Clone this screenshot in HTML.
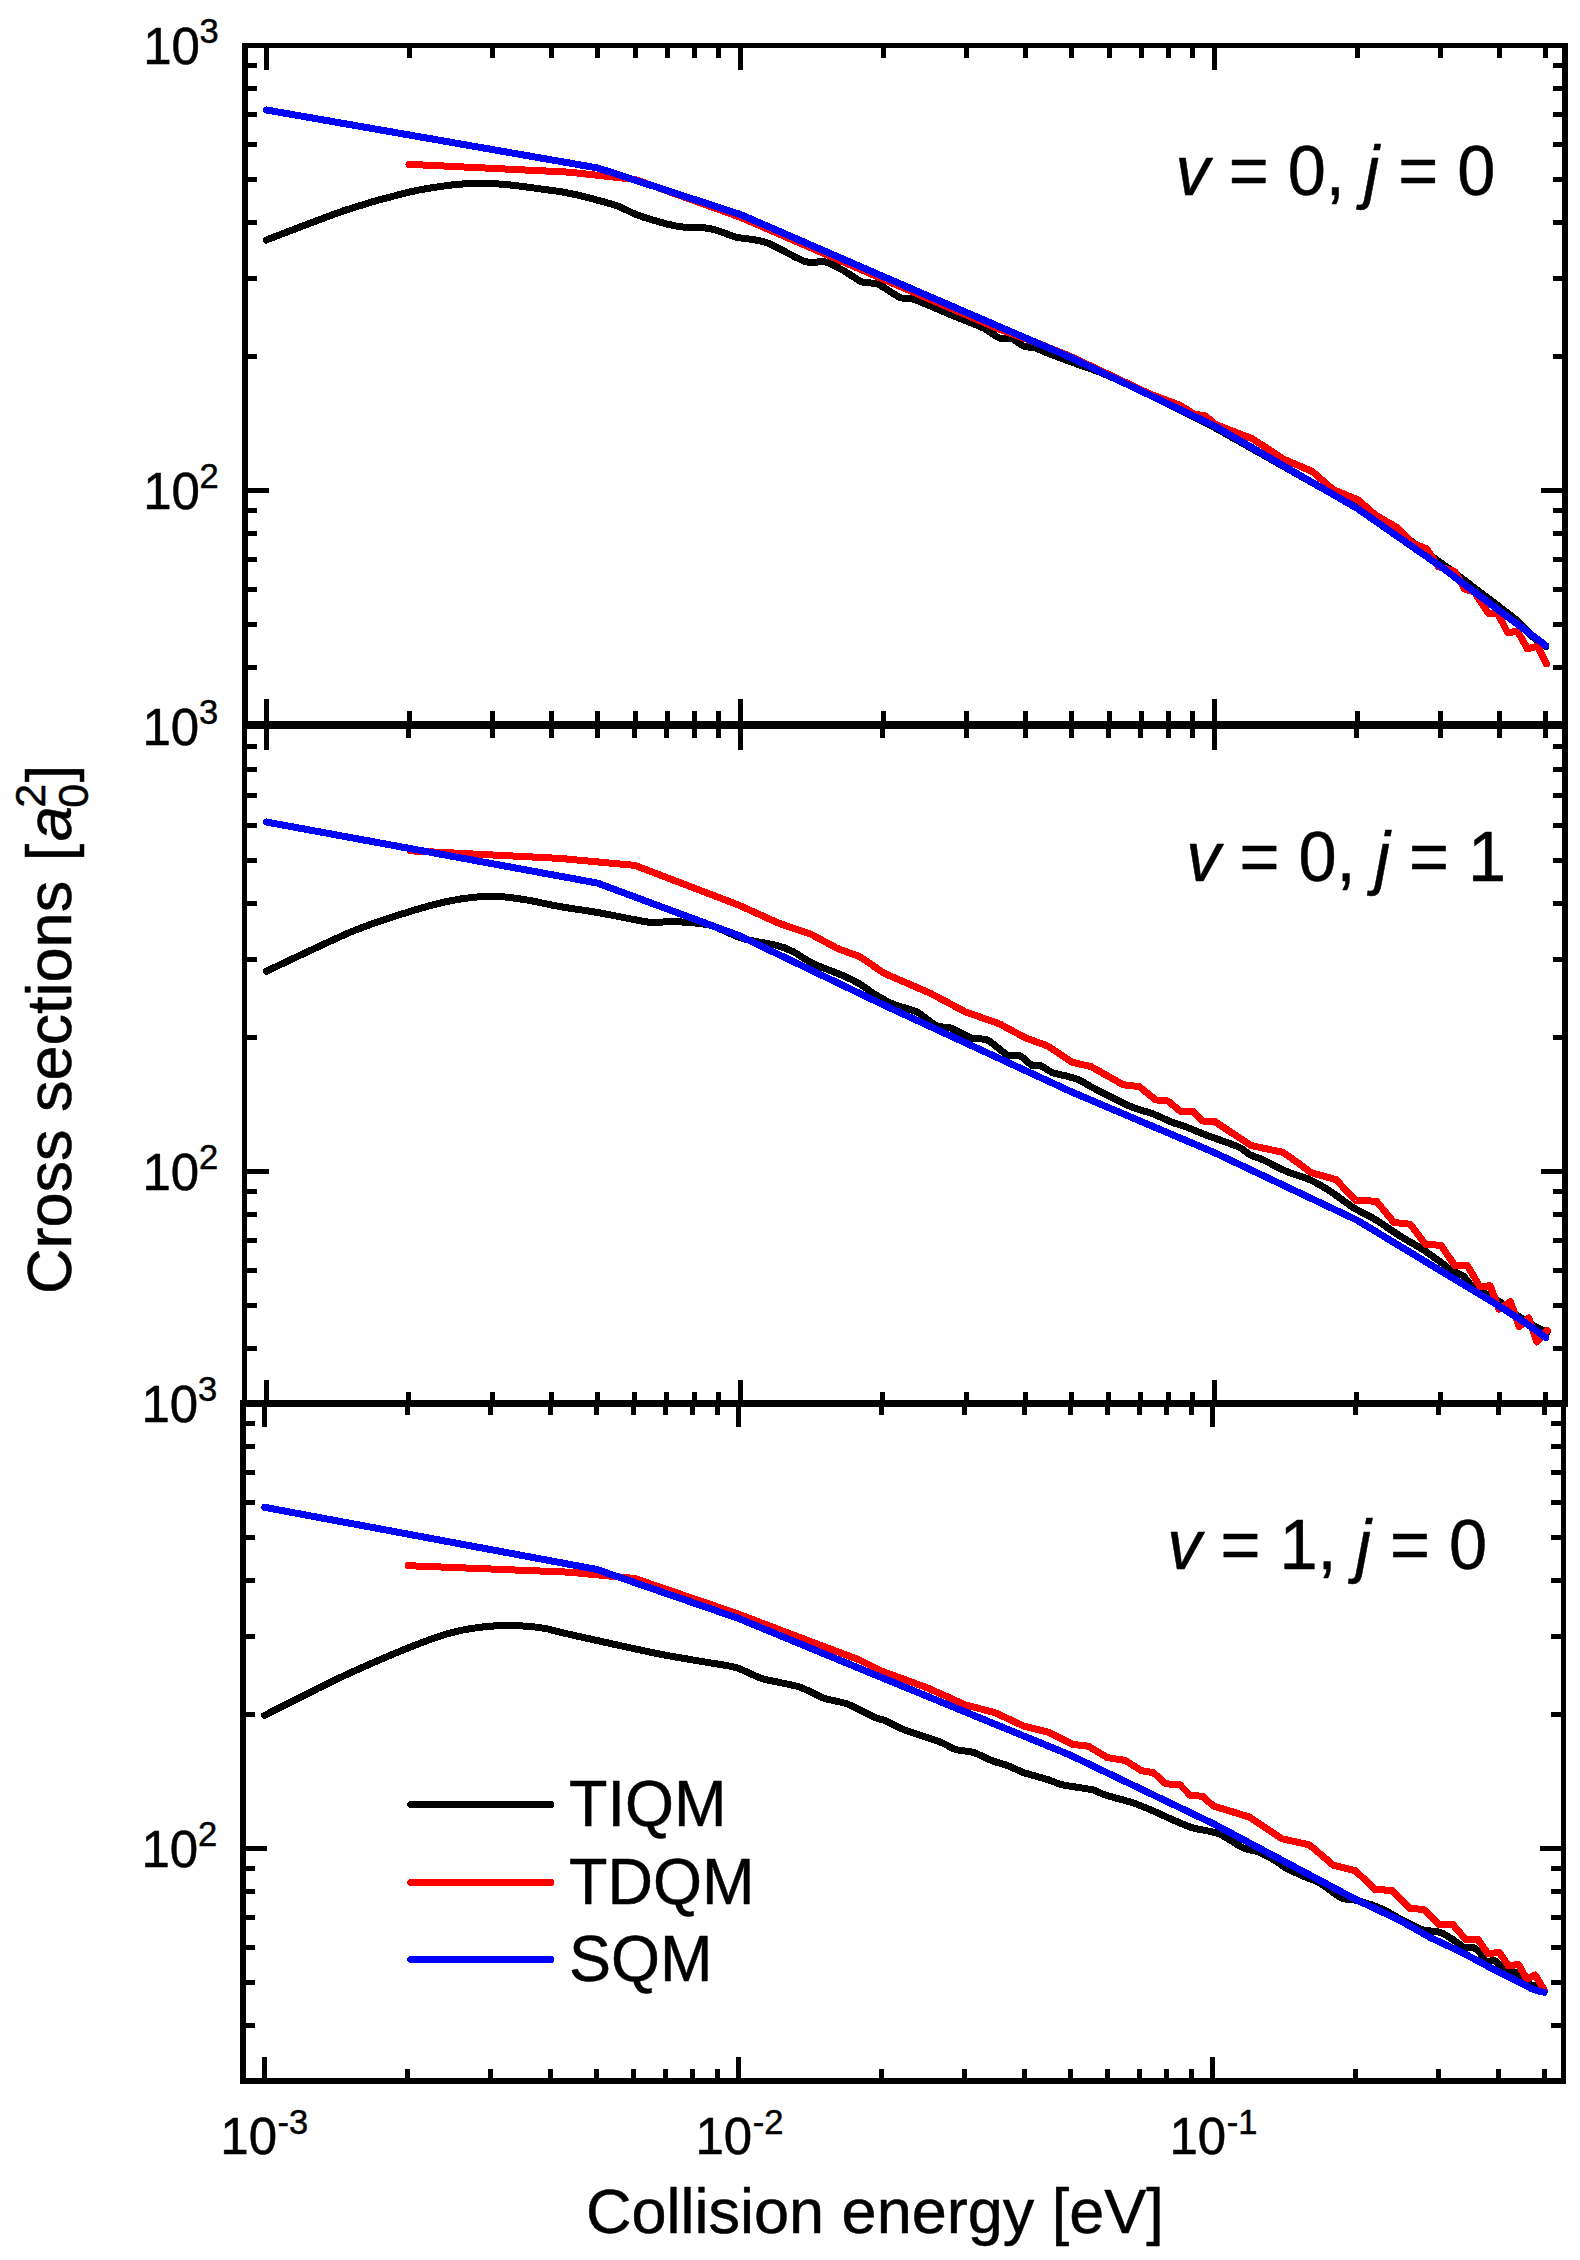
<!DOCTYPE html>
<html lang="en"><head><meta charset="utf-8"><title>Cross sections vs collision energy</title>
<style>
html,body{margin:0;padding:0;background:#fff}
body{width:1580px;height:2260px;overflow:hidden}
svg{display:block}
</style></head><body>
<svg width="1580" height="2260" viewBox="0 0 1580 2260">
<rect width="1580" height="2260" fill="#fff"/>
<g fill="#000" shape-rendering="crispEdges">
<rect x="242" y="43" width="6" height="684"/>
<rect x="1562" y="43" width="6" height="684"/>
<rect x="242" y="43" width="1326" height="5"/>
<rect x="242" y="721" width="1326" height="6"/>
<rect x="264" y="48" width="5" height="22"/>
<rect x="264" y="699" width="5" height="22"/>
<rect x="407" y="48" width="5" height="10"/>
<rect x="407" y="711" width="5" height="10"/>
<rect x="490" y="48" width="5" height="10"/>
<rect x="490" y="711" width="5" height="10"/>
<rect x="549" y="48" width="5" height="10"/>
<rect x="549" y="711" width="5" height="10"/>
<rect x="595" y="48" width="5" height="10"/>
<rect x="595" y="711" width="5" height="10"/>
<rect x="633" y="48" width="5" height="10"/>
<rect x="633" y="711" width="5" height="10"/>
<rect x="665" y="48" width="5" height="10"/>
<rect x="665" y="711" width="5" height="10"/>
<rect x="692" y="48" width="5" height="10"/>
<rect x="692" y="711" width="5" height="10"/>
<rect x="716" y="48" width="5" height="10"/>
<rect x="716" y="711" width="5" height="10"/>
<rect x="738" y="48" width="5" height="22"/>
<rect x="738" y="699" width="5" height="22"/>
<rect x="881" y="48" width="5" height="10"/>
<rect x="881" y="711" width="5" height="10"/>
<rect x="964" y="48" width="5" height="10"/>
<rect x="964" y="711" width="5" height="10"/>
<rect x="1023" y="48" width="5" height="10"/>
<rect x="1023" y="711" width="5" height="10"/>
<rect x="1069" y="48" width="5" height="10"/>
<rect x="1069" y="711" width="5" height="10"/>
<rect x="1107" y="48" width="5" height="10"/>
<rect x="1107" y="711" width="5" height="10"/>
<rect x="1139" y="48" width="5" height="10"/>
<rect x="1139" y="711" width="5" height="10"/>
<rect x="1166" y="48" width="5" height="10"/>
<rect x="1166" y="711" width="5" height="10"/>
<rect x="1190" y="48" width="5" height="10"/>
<rect x="1190" y="711" width="5" height="10"/>
<rect x="1212" y="48" width="5" height="22"/>
<rect x="1212" y="699" width="5" height="22"/>
<rect x="1355" y="48" width="5" height="10"/>
<rect x="1355" y="711" width="5" height="10"/>
<rect x="1438" y="48" width="5" height="10"/>
<rect x="1438" y="711" width="5" height="10"/>
<rect x="1497" y="48" width="5" height="10"/>
<rect x="1497" y="711" width="5" height="10"/>
<rect x="1543" y="48" width="5" height="10"/>
<rect x="1543" y="711" width="5" height="10"/>
<rect x="248" y="721" width="9" height="5"/>
<rect x="1553" y="721" width="9" height="5"/>
<rect x="248" y="665" width="9" height="5"/>
<rect x="1553" y="665" width="9" height="5"/>
<rect x="248" y="622" width="9" height="5"/>
<rect x="1553" y="622" width="9" height="5"/>
<rect x="248" y="587" width="9" height="5"/>
<rect x="1553" y="587" width="9" height="5"/>
<rect x="248" y="557" width="9" height="5"/>
<rect x="1553" y="557" width="9" height="5"/>
<rect x="248" y="531" width="9" height="5"/>
<rect x="1553" y="531" width="9" height="5"/>
<rect x="248" y="508" width="9" height="5"/>
<rect x="1553" y="508" width="9" height="5"/>
<rect x="248" y="488" width="21" height="5"/>
<rect x="1541" y="488" width="21" height="5"/>
<rect x="248" y="354" width="9" height="5"/>
<rect x="1553" y="354" width="9" height="5"/>
<rect x="248" y="276" width="9" height="5"/>
<rect x="1553" y="276" width="9" height="5"/>
<rect x="248" y="220" width="9" height="5"/>
<rect x="1553" y="220" width="9" height="5"/>
<rect x="248" y="177" width="9" height="5"/>
<rect x="1553" y="177" width="9" height="5"/>
<rect x="248" y="142" width="9" height="5"/>
<rect x="1553" y="142" width="9" height="5"/>
<rect x="248" y="112" width="9" height="5"/>
<rect x="1553" y="112" width="9" height="5"/>
<rect x="248" y="86" width="9" height="5"/>
<rect x="1553" y="86" width="9" height="5"/>
<rect x="248" y="63" width="9" height="5"/>
<rect x="1553" y="63" width="9" height="5"/>
<rect x="242" y="724" width="5" height="683"/>
<rect x="1562" y="724" width="6" height="683"/>
<rect x="242" y="724" width="1326" height="5"/>
<rect x="242" y="1402" width="1326" height="5"/>
<rect x="264" y="729" width="5" height="21"/>
<rect x="264" y="1380" width="5" height="22"/>
<rect x="406" y="729" width="5" height="9"/>
<rect x="406" y="1392" width="5" height="10"/>
<rect x="490" y="729" width="5" height="9"/>
<rect x="490" y="1392" width="5" height="10"/>
<rect x="549" y="729" width="5" height="9"/>
<rect x="549" y="1392" width="5" height="10"/>
<rect x="595" y="729" width="5" height="9"/>
<rect x="595" y="1392" width="5" height="10"/>
<rect x="632" y="729" width="5" height="9"/>
<rect x="632" y="1392" width="5" height="10"/>
<rect x="664" y="729" width="5" height="9"/>
<rect x="664" y="1392" width="5" height="10"/>
<rect x="692" y="729" width="5" height="9"/>
<rect x="692" y="1392" width="5" height="10"/>
<rect x="716" y="729" width="5" height="9"/>
<rect x="716" y="1392" width="5" height="10"/>
<rect x="738" y="729" width="5" height="21"/>
<rect x="738" y="1380" width="5" height="22"/>
<rect x="880" y="729" width="5" height="9"/>
<rect x="880" y="1392" width="5" height="10"/>
<rect x="964" y="729" width="5" height="9"/>
<rect x="964" y="1392" width="5" height="10"/>
<rect x="1023" y="729" width="5" height="9"/>
<rect x="1023" y="1392" width="5" height="10"/>
<rect x="1069" y="729" width="5" height="9"/>
<rect x="1069" y="1392" width="5" height="10"/>
<rect x="1106" y="729" width="5" height="9"/>
<rect x="1106" y="1392" width="5" height="10"/>
<rect x="1138" y="729" width="5" height="9"/>
<rect x="1138" y="1392" width="5" height="10"/>
<rect x="1166" y="729" width="5" height="9"/>
<rect x="1166" y="1392" width="5" height="10"/>
<rect x="1190" y="729" width="5" height="9"/>
<rect x="1190" y="1392" width="5" height="10"/>
<rect x="1212" y="729" width="5" height="21"/>
<rect x="1212" y="1380" width="5" height="22"/>
<rect x="1354" y="729" width="5" height="9"/>
<rect x="1354" y="1392" width="5" height="10"/>
<rect x="1438" y="729" width="5" height="9"/>
<rect x="1438" y="1392" width="5" height="10"/>
<rect x="1497" y="729" width="5" height="9"/>
<rect x="1497" y="1392" width="5" height="10"/>
<rect x="1543" y="729" width="5" height="9"/>
<rect x="1543" y="1392" width="5" height="10"/>
<rect x="247" y="1402" width="10" height="5"/>
<rect x="1553" y="1402" width="9" height="5"/>
<rect x="247" y="1346" width="10" height="5"/>
<rect x="1553" y="1346" width="9" height="5"/>
<rect x="247" y="1303" width="10" height="5"/>
<rect x="1553" y="1303" width="9" height="5"/>
<rect x="247" y="1268" width="10" height="5"/>
<rect x="1553" y="1268" width="9" height="5"/>
<rect x="247" y="1238" width="10" height="5"/>
<rect x="1553" y="1238" width="9" height="5"/>
<rect x="247" y="1212" width="10" height="5"/>
<rect x="1553" y="1212" width="9" height="5"/>
<rect x="247" y="1189" width="10" height="5"/>
<rect x="1553" y="1189" width="9" height="5"/>
<rect x="247" y="1169" width="22" height="5"/>
<rect x="1541" y="1169" width="21" height="5"/>
<rect x="247" y="1035" width="10" height="5"/>
<rect x="1553" y="1035" width="9" height="5"/>
<rect x="247" y="957" width="10" height="5"/>
<rect x="1553" y="957" width="9" height="5"/>
<rect x="247" y="901" width="10" height="5"/>
<rect x="1553" y="901" width="9" height="5"/>
<rect x="247" y="858" width="10" height="5"/>
<rect x="1553" y="858" width="9" height="5"/>
<rect x="247" y="823" width="10" height="5"/>
<rect x="1553" y="823" width="9" height="5"/>
<rect x="247" y="793" width="10" height="5"/>
<rect x="1553" y="793" width="9" height="5"/>
<rect x="247" y="767" width="10" height="5"/>
<rect x="1553" y="767" width="9" height="5"/>
<rect x="247" y="744" width="10" height="5"/>
<rect x="1553" y="744" width="9" height="5"/>
<rect x="240" y="1400" width="6" height="684"/>
<rect x="1561" y="1400" width="5" height="684"/>
<rect x="240" y="1400" width="1326" height="6"/>
<rect x="240" y="2078" width="1326" height="6"/>
<rect x="262" y="1406" width="5" height="21"/>
<rect x="262" y="2057" width="5" height="21"/>
<rect x="405" y="1406" width="5" height="9"/>
<rect x="405" y="2069" width="5" height="9"/>
<rect x="488" y="1406" width="5" height="9"/>
<rect x="488" y="2069" width="5" height="9"/>
<rect x="548" y="1406" width="5" height="9"/>
<rect x="548" y="2069" width="5" height="9"/>
<rect x="594" y="1406" width="5" height="9"/>
<rect x="594" y="2069" width="5" height="9"/>
<rect x="631" y="1406" width="5" height="9"/>
<rect x="631" y="2069" width="5" height="9"/>
<rect x="663" y="1406" width="5" height="9"/>
<rect x="663" y="2069" width="5" height="9"/>
<rect x="690" y="1406" width="5" height="9"/>
<rect x="690" y="2069" width="5" height="9"/>
<rect x="715" y="1406" width="5" height="9"/>
<rect x="715" y="2069" width="5" height="9"/>
<rect x="736" y="1406" width="5" height="21"/>
<rect x="736" y="2057" width="5" height="21"/>
<rect x="879" y="1406" width="5" height="9"/>
<rect x="879" y="2069" width="5" height="9"/>
<rect x="962" y="1406" width="5" height="9"/>
<rect x="962" y="2069" width="5" height="9"/>
<rect x="1022" y="1406" width="5" height="9"/>
<rect x="1022" y="2069" width="5" height="9"/>
<rect x="1068" y="1406" width="5" height="9"/>
<rect x="1068" y="2069" width="5" height="9"/>
<rect x="1105" y="1406" width="5" height="9"/>
<rect x="1105" y="2069" width="5" height="9"/>
<rect x="1137" y="1406" width="5" height="9"/>
<rect x="1137" y="2069" width="5" height="9"/>
<rect x="1164" y="1406" width="5" height="9"/>
<rect x="1164" y="2069" width="5" height="9"/>
<rect x="1189" y="1406" width="5" height="9"/>
<rect x="1189" y="2069" width="5" height="9"/>
<rect x="1210" y="1406" width="5" height="21"/>
<rect x="1210" y="2057" width="5" height="21"/>
<rect x="1353" y="1406" width="5" height="9"/>
<rect x="1353" y="2069" width="5" height="9"/>
<rect x="1436" y="1406" width="5" height="9"/>
<rect x="1436" y="2069" width="5" height="9"/>
<rect x="1496" y="1406" width="5" height="9"/>
<rect x="1496" y="2069" width="5" height="9"/>
<rect x="1542" y="1406" width="5" height="9"/>
<rect x="1542" y="2069" width="5" height="9"/>
<rect x="246" y="2079" width="9" height="5"/>
<rect x="1551" y="2079" width="10" height="5"/>
<rect x="246" y="2023" width="9" height="5"/>
<rect x="1551" y="2023" width="10" height="5"/>
<rect x="246" y="1980" width="9" height="5"/>
<rect x="1551" y="1980" width="10" height="5"/>
<rect x="246" y="1945" width="9" height="5"/>
<rect x="1551" y="1945" width="10" height="5"/>
<rect x="246" y="1915" width="9" height="5"/>
<rect x="1551" y="1915" width="10" height="5"/>
<rect x="246" y="1889" width="9" height="5"/>
<rect x="1551" y="1889" width="10" height="5"/>
<rect x="246" y="1866" width="9" height="5"/>
<rect x="1551" y="1866" width="10" height="5"/>
<rect x="246" y="1846" width="21" height="5"/>
<rect x="1540" y="1846" width="21" height="5"/>
<rect x="246" y="1712" width="9" height="5"/>
<rect x="1551" y="1712" width="10" height="5"/>
<rect x="246" y="1634" width="9" height="5"/>
<rect x="1551" y="1634" width="10" height="5"/>
<rect x="246" y="1578" width="9" height="5"/>
<rect x="1551" y="1578" width="10" height="5"/>
<rect x="246" y="1535" width="9" height="5"/>
<rect x="1551" y="1535" width="10" height="5"/>
<rect x="246" y="1500" width="9" height="5"/>
<rect x="1551" y="1500" width="10" height="5"/>
<rect x="246" y="1470" width="9" height="5"/>
<rect x="1551" y="1470" width="10" height="5"/>
<rect x="246" y="1444" width="9" height="5"/>
<rect x="1551" y="1444" width="10" height="5"/>
<rect x="246" y="1421" width="9" height="5"/>
<rect x="1551" y="1421" width="10" height="5"/>
</g>
<g fill="none" stroke-width="7" stroke-linejoin="round" stroke-linecap="round" shape-rendering="crispEdges">
<path stroke="#000" d="M266.2,240.0C276.3,236.2 329.5,215.5 347.2,209.6C364.9,203.7 394.8,195.5 408.0,192.4C421.2,189.3 443.1,186.0 452.5,184.9C461.9,183.8 475.3,183.2 482.9,183.3C490.5,183.4 505.7,184.5 513.3,185.3C520.9,186.1 537.9,188.6 543.7,189.4C549.5,190.2 555.4,190.8 560.0,191.6C564.6,192.4 573.2,193.9 580.3,195.7C587.4,197.5 609.6,203.4 616.7,205.8C623.8,208.2 630.7,212.6 637.0,214.9C643.3,217.2 661.5,222.6 667.3,224.1C673.1,225.6 679.2,226.7 683.5,227.1C687.8,227.5 697.7,227.1 701.8,227.5C705.9,227.9 711.7,228.9 716.0,230.1C720.3,231.3 731.9,236.1 736.2,237.2C740.5,238.3 746.4,238.4 750.4,239.2C754.4,240.0 761.8,240.5 768.6,243.3C775.4,246.1 798.0,259.2 805.1,261.5C812.2,263.8 820.5,260.8 825.3,261.9C830.1,263.0 838.9,268.1 843.5,270.6C848.1,273.1 857.5,280.1 861.8,281.8C866.1,283.5 873.2,282.3 878.0,284.3C882.8,286.3 895.8,295.7 900.4,297.6C905.0,299.5 908.3,297.5 914.6,299.6C920.9,301.8 942.4,311.2 951.0,314.8C959.6,318.4 977.3,325.1 983.4,328.0C989.5,330.9 996.1,336.8 999.6,338.1C1003.1,339.4 1008.8,337.7 1011.8,338.7C1014.8,339.7 1020.9,345.0 1023.9,346.2C1026.9,347.4 1033.0,347.3 1036.0,348.2C1039.0,349.1 1043.6,351.5 1048.2,353.3C1052.8,355.1 1065.7,359.9 1072.5,362.4C1079.3,364.9 1093.2,369.4 1102.9,373.5C1112.6,377.6 1139.1,389.8 1150.0,395.0C1160.9,400.2 1181.9,410.9 1190.0,415.0C1198.1,419.1 1200.8,419.9 1214.5,427.5C1228.2,435.1 1282.2,465.8 1300.0,475.8C1317.8,485.8 1347.0,502.2 1357.0,507.5C1367.0,512.8 1370.3,512.1 1380.0,518.5C1389.7,524.9 1425.5,551.9 1434.4,558.3C1443.3,564.7 1445.7,566.1 1450.9,570.0C1456.1,573.9 1470.8,585.1 1476.2,589.2C1481.6,593.3 1488.5,598.5 1493.9,602.6C1499.3,606.8 1514.5,618.2 1519.2,622.4C1524.0,626.6 1528.6,633.1 1531.9,636.1C1535.2,639.1 1544.1,645.5 1545.8,646.8"/>
<polyline stroke="#f00" points="409.0,164.3 570.0,172.2 635.3,179.5 740.5,217.3 883.2,279.2 1000.0,329.5 1040.0,344.0 1071.8,357.0 1150.0,394.0 1180.0,405.3 1193.9,414.0 1205.1,415.8 1216.2,424.8 1252.4,438.7 1283.1,458.9 1312.3,471.5 1333.2,489.6 1358.3,500.0 1375.0,514.7 1396.5,527.2 1412.9,543.7 1426.8,548.7 1438.2,566.5 1454.7,571.5 1464.8,589.2 1474.3,591.8 1488.2,613.3 1497.7,613.3 1507.8,632.9 1517.3,631.0 1527.5,648.7 1537.6,646.2 1546.5,663.9"/>
<polyline stroke="#00f" points="266.5,110.0 597.8,168.0 740.5,214.5 883.2,276.5 1071.8,358.0 1214.5,426.0 1357.2,508.4 1440.7,566.5 1545.8,645.6"/>
<path stroke="#000" d="M266.2,971.3C276.8,966.4 333.3,939.3 351.3,931.8C369.3,924.3 397.4,915.4 410.0,911.5C422.6,907.6 442.4,902.3 452.5,900.4C462.6,898.5 482.1,896.4 491.0,896.3C499.9,896.2 514.8,898.1 523.4,899.4C532.0,900.7 550.4,904.9 560.0,906.6C569.6,908.3 589.4,911.0 600.5,913.0C611.6,915.0 640.0,921.1 649.1,922.2C658.2,923.3 665.8,921.1 673.4,921.5C681.0,921.9 701.3,923.1 709.9,925.2C718.5,927.3 733.9,935.9 742.3,938.4C750.6,940.9 770.4,943.8 776.7,945.4C783.0,947.0 788.3,949.2 792.9,951.5C797.5,953.8 806.9,960.7 813.2,963.7C819.5,966.7 837.7,973.3 843.5,975.8C849.3,978.3 855.8,981.6 859.7,983.9C863.6,986.2 870.7,991.9 875.0,994.5C879.3,997.1 889.1,1002.5 894.3,1004.7C899.5,1006.9 911.3,1009.1 916.6,1011.8C921.9,1014.4 932.5,1023.9 936.8,1025.9C941.1,1027.9 946.7,1026.5 951.0,1028.0C955.3,1029.5 966.7,1036.6 971.3,1038.1C975.9,1039.6 983.0,1037.9 987.5,1040.1C992.0,1042.2 1003.7,1053.3 1007.7,1055.3C1011.8,1057.2 1016.9,1054.4 1019.9,1055.7C1022.9,1057.0 1029.5,1064.2 1032.0,1065.4C1034.5,1066.6 1037.6,1064.5 1040.1,1065.4C1042.6,1066.3 1048.8,1071.1 1052.3,1072.5C1055.8,1073.9 1065.0,1075.6 1068.5,1076.6C1072.0,1077.6 1077.6,1079.2 1080.6,1080.6C1083.6,1082.0 1086.7,1084.5 1092.8,1087.7C1098.9,1090.9 1121.6,1102.6 1129.2,1105.9C1136.8,1109.2 1148.2,1112.1 1153.5,1114.1C1158.8,1116.1 1167.9,1120.7 1171.8,1122.2C1175.7,1123.8 1180.5,1124.8 1185.0,1126.5C1189.5,1128.2 1201.2,1133.2 1207.9,1135.7C1214.6,1138.2 1233.3,1144.6 1238.5,1146.9C1243.7,1149.2 1246.5,1152.8 1249.6,1154.5C1252.7,1156.2 1259.1,1158.0 1263.6,1160.1C1268.1,1162.2 1280.2,1168.8 1285.9,1171.2C1291.6,1173.6 1303.9,1177.1 1309.5,1179.6C1315.1,1182.1 1324.8,1187.8 1330.4,1191.4C1336.0,1195.0 1348.5,1204.6 1354.1,1208.1C1359.7,1211.6 1369.3,1215.8 1375.0,1219.3C1380.7,1222.8 1394.0,1232.2 1400.0,1236.0C1406.0,1239.8 1417.9,1246.3 1423.0,1249.6C1428.1,1252.9 1437.3,1259.8 1440.8,1262.3C1444.3,1264.8 1448.1,1268.2 1450.9,1269.9C1453.7,1271.6 1461.0,1274.3 1463.5,1276.2C1466.0,1278.1 1468.2,1282.9 1471.1,1285.1C1473.9,1287.3 1482.6,1291.8 1486.3,1293.9C1490.0,1296.0 1496.2,1299.4 1500.3,1302.2C1504.4,1305.0 1514.5,1313.5 1519.2,1316.7C1523.9,1319.9 1534.7,1326.1 1538.2,1328.1C1541.7,1330.1 1546.0,1332.0 1547.1,1332.5"/>
<polyline stroke="#f00" points="410.0,850.8 560.0,858.4 634.9,865.4 738.2,904.9 778.7,923.2 811.1,934.3 837.5,948.5 859.7,956.6 875.0,967.0 884.2,973.3 930.8,993.5 965.2,1011.8 999.6,1023.9 1025.9,1038.1 1048.2,1046.2 1072.5,1062.4 1090.8,1066.5 1123.2,1084.7 1139.4,1086.7 1155.6,1099.9 1167.7,1100.9 1180.9,1111.6 1193.2,1111.3 1203.0,1121.1 1214.1,1121.1 1224.6,1128.1 1251.0,1145.5 1283.1,1152.4 1297.0,1162.2 1310.9,1172.6 1336.0,1179.6 1355.5,1200.5 1376.4,1201.2 1393.9,1222.4 1410.4,1224.3 1425.6,1244.6 1440.8,1245.2 1454.7,1265.4 1467.3,1265.4 1480.0,1287.0 1490.1,1285.7 1499.0,1309.1 1510.4,1301.5 1519.2,1326.8 1528.7,1318.0 1537.0,1342.0 1547.1,1330.6"/>
<polyline stroke="#00f" points="266.2,822.0 597.5,883.1 740.0,936.0 882.7,1004.5 1071.3,1091.8 1214.0,1152.4 1356.7,1220.0 1440.2,1270.5 1493.9,1302.8 1525.6,1323.0 1545.8,1337.6"/>
<path stroke="#000" d="M264.6,1715.4C273.7,1710.9 319.2,1687.4 337.1,1679.0C355.0,1670.6 393.6,1653.8 408.0,1648.0C422.4,1642.2 442.4,1635.1 452.5,1632.4C462.6,1629.7 480.4,1627.1 489.0,1626.3C497.6,1625.5 514.3,1625.6 521.4,1625.9C528.5,1626.2 540.9,1627.7 545.7,1628.5C550.5,1629.3 553.1,1630.6 560.0,1632.2C566.9,1633.8 587.8,1638.5 600.5,1641.3C613.2,1644.1 648.6,1651.9 661.3,1654.4C674.0,1656.9 692.4,1659.8 701.8,1661.5C711.2,1663.2 728.6,1665.4 736.2,1667.6C743.8,1669.8 754.6,1676.3 762.5,1678.7C770.4,1681.1 791.4,1684.4 799.0,1686.8C806.6,1689.2 817.2,1695.8 823.3,1698.0C829.4,1700.2 841.1,1701.7 847.6,1704.1C854.1,1706.5 870.2,1715.4 875.0,1717.5C879.8,1719.6 882.8,1719.5 886.2,1721.0C889.6,1722.5 895.6,1726.4 902.4,1729.1C909.2,1731.8 934.3,1739.8 940.9,1742.3C947.5,1744.8 951.1,1748.1 955.1,1749.4C959.1,1750.7 968.8,1751.0 973.3,1752.4C977.8,1753.8 987.2,1758.8 991.5,1760.5C995.8,1762.2 1003.7,1764.1 1007.7,1765.6C1011.8,1767.1 1018.8,1770.9 1023.9,1772.7C1029.0,1774.5 1043.4,1778.2 1048.2,1779.7C1053.0,1781.2 1056.8,1783.5 1062.4,1784.8C1068.0,1786.1 1087.5,1788.6 1092.8,1789.9C1098.1,1791.2 1099.8,1793.3 1104.9,1794.9C1110.0,1796.5 1127.2,1801.0 1133.3,1803.0C1139.4,1805.0 1148.4,1808.9 1153.5,1811.1C1158.6,1813.3 1169.9,1818.6 1173.8,1820.3C1177.7,1822.0 1182.5,1824.0 1185.0,1825.0C1187.5,1826.0 1189.7,1827.1 1193.9,1828.2C1198.2,1829.3 1212.9,1831.4 1219.0,1833.8C1225.1,1836.2 1237.8,1845.4 1242.7,1847.7C1247.6,1850.0 1254.0,1850.3 1258.0,1851.9C1262.0,1853.5 1271.2,1858.3 1274.7,1860.3C1278.2,1862.3 1282.1,1865.8 1285.9,1867.9C1289.7,1870.0 1301.1,1875.2 1305.3,1877.0C1309.5,1878.8 1314.8,1880.0 1319.3,1882.6C1323.8,1885.2 1336.7,1895.6 1341.6,1897.9C1346.5,1900.2 1353.2,1899.3 1358.3,1900.7C1363.3,1902.1 1376.8,1906.7 1382.0,1909.0C1387.2,1911.3 1395.2,1916.4 1400.0,1918.9C1404.8,1921.4 1416.5,1927.5 1420.3,1929.0C1424.1,1930.5 1427.9,1930.6 1430.4,1931.0C1432.9,1931.4 1438.0,1931.6 1440.5,1932.5C1443.0,1933.4 1448.1,1936.5 1450.6,1938.1C1453.1,1939.7 1459.0,1944.0 1460.8,1945.2C1462.6,1946.4 1463.3,1947.5 1464.8,1947.7C1466.3,1948.0 1471.0,1946.6 1472.9,1947.2C1474.8,1947.8 1478.3,1951.1 1480.0,1952.8C1481.7,1954.5 1484.2,1959.9 1486.1,1960.9C1488.0,1961.9 1493.3,1960.1 1495.2,1960.9C1497.1,1961.7 1499.9,1965.6 1501.3,1967.0C1502.7,1968.4 1504.7,1971.4 1506.3,1972.0C1507.9,1972.6 1512.8,1971.1 1514.4,1972.0C1516.1,1972.9 1517.5,1977.5 1519.5,1979.1C1521.5,1980.7 1528.8,1983.9 1530.6,1984.7C1532.4,1985.5 1532.8,1984.7 1533.7,1985.2C1534.6,1985.7 1536.4,1988.0 1537.7,1988.7C1539.0,1989.4 1543.3,1990.7 1544.1,1991.0"/>
<polyline stroke="#f00" points="408.0,1565.7 570.0,1572.2 634.9,1578.5 738.2,1614.0 809.1,1641.0 859.7,1660.0 880.0,1670.5 926.7,1687.6 965.2,1704.8 995.6,1712.9 1023.9,1726.1 1048.2,1732.2 1072.5,1744.3 1088.7,1746.3 1107.0,1757.5 1125.2,1760.5 1141.4,1770.6 1153.5,1772.7 1165.7,1783.8 1179.9,1784.8 1190.4,1795.5 1202.3,1796.2 1213.4,1806.0 1249.6,1817.1 1281.7,1838.7 1309.5,1844.9 1333.2,1865.1 1355.5,1870.7 1375.0,1889.5 1392.0,1890.4 1410.1,1908.7 1423.3,1909.2 1438.5,1924.4 1452.7,1924.4 1465.8,1939.6 1478.0,1939.6 1488.1,1953.8 1499.2,1952.3 1508.4,1965.9 1518.5,1964.4 1526.6,1979.1 1535.2,1975.1 1544.1,1989.7"/>
<polyline stroke="#00f" points="264.6,1507.3 596.5,1569.4 738.7,1618.5 881.5,1677.5 1070.0,1755.0 1212.7,1823.4 1355.4,1899.3 1400.0,1920.4 1430.4,1937.6 1460.8,1951.8 1491.1,1968.0 1521.5,1983.2 1531.6,1988.7 1538.0,1991.0 1544.1,1992.2"/>
<line x1="410.6" y1="1804.5" x2="550.6" y2="1804.5" stroke="#000" stroke-width="7"/>
<line x1="410.6" y1="1882.5" x2="550.6" y2="1882.5" stroke="#f00" stroke-width="7"/>
<line x1="410.6" y1="1959.5" x2="550.6" y2="1959.5" stroke="#00f" stroke-width="7"/>
</g>
<g font-family="'Liberation Sans', Arial, sans-serif" fill="#000" stroke="#000" stroke-width="0.5" stroke-linejoin="round">
<text transform="translate(143.2,64.4) scale(1,1.03)" font-size="51">10<tspan x="56.4" dy="-20.9" font-size="34.5">3</tspan></text>
<text transform="translate(143.2,509.4) scale(1,1.03)" font-size="51">10<tspan x="56.4" dy="-20.9" font-size="34.5">2</tspan></text>
<text transform="translate(142.5,745.4) scale(1,1.03)" font-size="51">10<tspan x="56.4" dy="-20.9" font-size="34.5">3</tspan></text>
<text transform="translate(142.5,1190.4) scale(1,1.03)" font-size="51">10<tspan x="56.4" dy="-20.9" font-size="34.5">2</tspan></text>
<text transform="translate(141.5,1422.4) scale(1,1.03)" font-size="51">10<tspan x="56.4" dy="-20.9" font-size="34.5">3</tspan></text>
<text transform="translate(141.5,1867.4) scale(1,1.03)" font-size="51">10<tspan x="56.4" dy="-20.9" font-size="34.5">2</tspan></text>
<text transform="translate(220.3,2154.2) scale(1,1.03)" font-size="51">10<tspan x="57.3" dy="-19.7" font-size="34.5">-3</tspan></text>
<text transform="translate(695.5,2154.2) scale(1,1.03)" font-size="51">10<tspan x="57.3" dy="-19.7" font-size="34.5">-2</tspan></text>
<text transform="translate(1169.5,2154.2) scale(1,1.03)" font-size="51">10<tspan x="57.3" dy="-19.7" font-size="34.5">-1</tspan></text>
<text transform="translate(1175.4,194.8) scale(1,1.025)" font-size="68.5"><tspan font-style="italic">v</tspan> = 0, <tspan font-style="italic">j</tspan> = 0</text>
<text transform="translate(1186.2,881.1) scale(1,1.025)" font-size="68.5"><tspan font-style="italic">v</tspan> = 0, <tspan font-style="italic">j</tspan> = 1</text>
<text transform="translate(1167.2,1569.1) scale(1,1.025)" font-size="68.5"><tspan font-style="italic">v</tspan> = 1, <tspan font-style="italic">j</tspan> = 0</text>
<text transform="translate(569.0,1826.0) scale(1,1.015)" font-size="63">TIQM</text>
<text transform="translate(569.0,1904.0) scale(1,1.015)" font-size="63">TDQM</text>
<text transform="translate(569.0,1980.5) scale(1,1.015)" font-size="63">SQM</text>
<text transform="translate(586.0,2232.6)" font-size="63">Collision energy [eV]</text>
<g transform="translate(70.5,1294) rotate(-90)"><text x="0" y="0" font-size="63">Cross sections <tspan dx="2">[</tspan><tspan font-style="italic" dx="2.5">a</tspan><tspan font-size="43" dx="-1.5" dy="-25.6">2</tspan><tspan font-size="43" dx="-23.9" dy="43.2">0</tspan><tspan dx="1.5" dy="-17.6">]</tspan></text></g>
</g>
</svg>
</body></html>
